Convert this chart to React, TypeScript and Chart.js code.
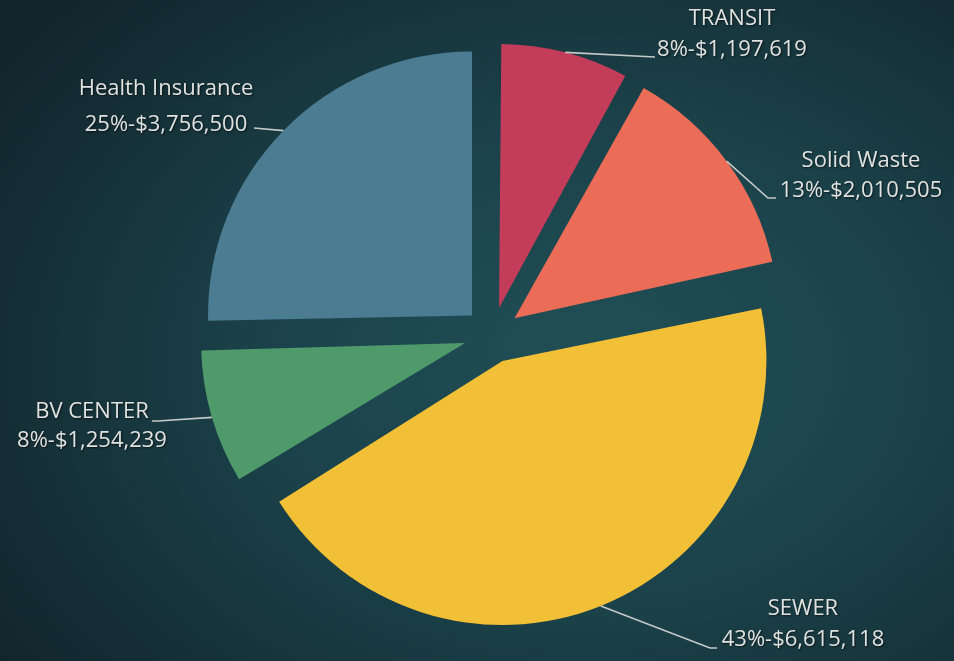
import React, { useEffect, useRef } from "react";
import { Chart, registerables } from "chart.js";

Chart.register(...registerables);

const categories = ["TRANSIT", "Solid Waste", "SEWER", "BV CENTER", "Health Insurance"];
const amounts = [1197619, 2010505, 6615118, 1254239, 3756500];
const percentLabels = ["8%", "13%", "43%", "8%", "25%"];
const amountLabels = ["$1,197,619", "$2,010,505", "$6,615,118", "$1,254,239", "$3,756,500"];
const sliceColors = ["#c33d5b", "#eb6d58", "#f2c036", "#4f9a6b", "#4b7c92"];

const RADIUS = 264;
const SHIFT = 28; // visual explode distance in px

// label layout: text block centre x, line-1 centre y, line-2 centre y, leader path after anchor
const labelLayout = [
  { cx: 732, y1: 19, y2: 50, path: [[655, 57]] },
  { cx: 861, y1: 161, y2: 191, path: [[768, 198], [776, 198]] },
  { cx: 803, y1: 609, y2: 640, path: [[710, 648], [717, 648]] },
  { cx: 92, y1: 412, y2: 441, path: [[158, 421], [152, 421]] },
  { cx: 166, y1: 89, y2: 125, path: [[254, 128]] },
];

const compensatePlugin = {
  id: "compensate",
  beforeDatasetsDraw(chart: any) {
    const meta = chart.getDatasetMeta(0);
    meta.data.forEach((arc: any) => {
      const circ = arc.endAngle - arc.startAngle;
      const off = (arc.options.offset || 0) / 4;
      const fix = 1 - Math.sin(Math.min(Math.PI, circ));
      arc.outerRadius = RADIUS - off * fix;
    });
  },
};

const labelPlugin = {
  id: "sliceLabels",
  afterDatasetsDraw(chart: any) {
    const ctx = chart.ctx;
    const meta = chart.getDatasetMeta(0);
    ctx.save();
    meta.data.forEach((arc: any, i: number) => {
      const mid = (arc.startAngle + arc.endAngle) / 2;
      const off = (arc.options.offset || 0) / 4;
      const ax = arc.x + Math.cos(mid) * (off + RADIUS);
      const ay = arc.y + Math.sin(mid) * (off + RADIUS);
      const lay = labelLayout[i];
      ctx.strokeStyle = "#c5c9c8";
      ctx.lineWidth = 1.6;
      ctx.beginPath();
      ctx.moveTo(ax, ay);
      lay.path.forEach((p) => ctx.lineTo(p[0], p[1]));
      ctx.stroke();

      ctx.fillStyle = "#dfe2df";
      ctx.shadowColor = "rgba(0,0,0,0.6)";
      ctx.shadowBlur = 2;
      ctx.shadowOffsetX = 1;
      ctx.shadowOffsetY = 1;
      ctx.font = "22px 'Open Sans', Lato, sans-serif";
      ctx.textAlign = "center";
      ctx.textBaseline = "middle";
      ctx.fillText(categories[i], lay.cx, lay.y1);
      ctx.fillText(percentLabels[i] + "-" + amountLabels[i], lay.cx, lay.y2);
      ctx.shadowColor = "transparent";
    });
    ctx.restore();
  },
};

export default function App() {
  const ref = useRef<HTMLCanvasElement>(null);
  useEffect(() => {
    if (!ref.current) return;
    const chart = new Chart(ref.current, {
      type: "pie",
      data: {
        labels: categories,
        datasets: [
          {
            data: amounts,
            backgroundColor: sliceColors,
            borderWidth: 0,
            radius: RADIUS,
            offset: SHIFT * 4,
          } as any,
        ],
      },
      options: {
        responsive: false,
        animation: false,
        layout: { padding: { left: 30, right: 0, top: 9, bottom: 0 } },
        plugins: { legend: { display: false }, tooltip: { enabled: false } },
      },
      plugins: [compensatePlugin, labelPlugin],
    });
    return () => chart.destroy();
  }, []);
  return (
    <div
      style={{
        position: "absolute",
        left: 0,
        top: 0,
        width: 954,
        height: 661,
        background:
          "radial-gradient(ellipse 75% 80% at 62% 55%, #214f56 0%, #1b424a 45%, #12252c 100%)",
      }}
    >
      <canvas ref={ref} width={954} height={661} style={{ display: "block" }} />
    </div>
  );
}
